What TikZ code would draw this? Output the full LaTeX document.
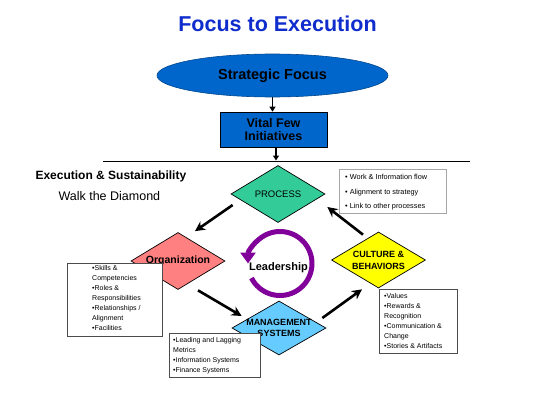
\documentclass[tikz,border=0pt]{standalone}
\usepackage{fontspec}
\setmainfont{Liberation Sans}
\usetikzlibrary{shapes.geometric,arrows.meta}
\definecolor{titleblue}{RGB}{15,45,205}
\definecolor{ellblue}{RGB}{0,102,204}
\definecolor{proccol}{RGB}{51,204,153}
\definecolor{orgcol}{RGB}{255,128,128}
\definecolor{cultcol}{RGB}{255,255,0}
\definecolor{mgmtcol}{RGB}{102,204,255}
\definecolor{leadcol}{RGB}{128,0,153}
\begin{document}
\begin{tikzpicture}[x=1pt,y=-1pt,
  dia/.style={diamond, draw=black, line width=0.7pt, minimum width=94pt, minimum height=57pt, inner sep=0pt},
  flowarrow/.style={line width=2.6pt, -{Stealth[length=10pt,width=10pt]}},
  smallarrow/.style={line width=1.4pt, -{Triangle[length=5pt,width=6pt]}},
  infobox/.style={draw=black!70, line width=0.7pt, fill=white, inner sep=0pt, anchor=north west},
  boxtext/.style={anchor=north west, inner sep=0pt, align=left, font=\fontsize{7}{10}\selectfont},
  linetext/.style={anchor=base west, inner sep=0pt, font=\fontsize{7.3}{9}\selectfont},
]
\useasboundingbox[fill=white] (0,0) rectangle (560,420);

% title and top
\node[font=\fontsize{21.5}{24}\selectfont\bfseries, text=titleblue] (title) at (277.5,24) {Focus to Execution};
\node[ellipse, fill=ellblue, draw=ellblue!70!black, line width=0.6pt, minimum width=231pt, minimum height=43pt, inner sep=0pt, font=\fontsize{14.5}{16}\selectfont\bfseries] (strat) at (272.5,75.5) {Strategic Focus};
\node[fill=ellblue, draw=black, line width=0.7pt, minimum width=107pt, minimum height=35pt, inner sep=0pt, align=center, font=\fontsize{12.5}{13}\selectfont\bfseries] (vital) at (273.5,129.5) {Vital Few\\Initiatives};
\draw[smallarrow] (strat.south) -- (strat.south |- vital.north);
\coordinate (linept) at (276,160.5);
\draw[smallarrow] (vital.south -| linept) -- (linept);
\coordinate (sepL) at (103,161.5);
\coordinate (sepR) at (470,161.5);
\draw[line width=1pt] (sepL) -- (sepR);

\node[anchor=west, font=\fontsize{12}{14}\selectfont\bfseries] (exec) at (32,176) {Execution \& Sustainability};
\node[anchor=west, font=\fontsize{12.5}{14}\selectfont] (walk) at (55,196) {Walk the Diamond};

% diamonds
\node[dia, fill=proccol, label={[font=\fontsize{9.5}{11}\selectfont]center:PROCESS}] (proc) at (278,194) {};
\node[dia, fill=orgcol, label={[font=\fontsize{10.5}{12}\selectfont\bfseries]center:Organization}] (org) at (178,261) {};
\node[dia, fill=cultcol, minimum height=56pt, label={[font=\fontsize{9}{12}\selectfont\bfseries, align=center]center:CULTURE \&\\BEHAVIORS}] (cult) at (378.5,260) {};
\node[dia, fill=mgmtcol, minimum height=54pt, label={[font=\fontsize{9}{11}\selectfont\bfseries, align=center]center:MANAGEMENT\\SYSTEMS}] (mgmt) at (279,328) {};

% cycle arrows
\draw[flowarrow] ([shift={(2,11)}]proc.west) -- ([shift={(17,-1)}]org.north);
\draw[flowarrow] ([shift={(20,0.5)}]org.south) -- ([shift={(10,-12)}]mgmt.west);
\draw[flowarrow] ([shift={(-4,-10)}]mgmt.east) -- ([shift={(-16.5,1)}]cult.south);
\draw[flowarrow] ([shift={(-15.5,3)}]cult.north) -- ([shift={(2,13)}]proc.east);

% leadership
\coordinate (lc) at (280,263.5);
\draw[leadcol, line width=5pt, -{Triangle[length=11pt,width=15pt]}] ([shift={(153:32)}]lc) arc[start angle=153, end angle=-180, radius=32];
\node[font=\fontsize{11}{13}\selectfont\bfseries] (lead) at (278.5,268) {Leadership};

% boxes
\node[infobox, draw=black!35, minimum width=107pt, minimum height=44pt] (procbox) at (339,169) {};
\node[linetext] (pb1) at (345,179.5) {• Work \& Information flow};
\node[linetext] (pb2) at (345,194.5) {• Alignment to strategy};
\node[linetext] (pb3) at (345,208.5) {• Link to other processes};

\node[infobox, minimum width=95pt, minimum height=73pt] (orgbox) at (67,263) {};
\node[boxtext] (orgtext) at (92,265.5) {•Skills \&\\Competencies\\•Roles \&\\Responsibilities\\•Relationships /\\Alignment\\•Facilities};

\node[infobox, minimum width=91pt, minimum height=44pt] (mgmtbox) at (169,333) {};
\node[boxtext] (mgmttext) at (173,337.5) {•Leading and Lagging\\Metrics\\•Information Systems\\•Finance Systems};

\node[infobox, minimum width=78pt, minimum height=64pt] (cultbox) at (379,289) {};
\node[boxtext] (culttext) at (384,293) {•Values\\•Rewards \&\\Recognition\\•Communication \&\\Change\\•Stories \& Artifacts};
\end{tikzpicture}
\end{document}
